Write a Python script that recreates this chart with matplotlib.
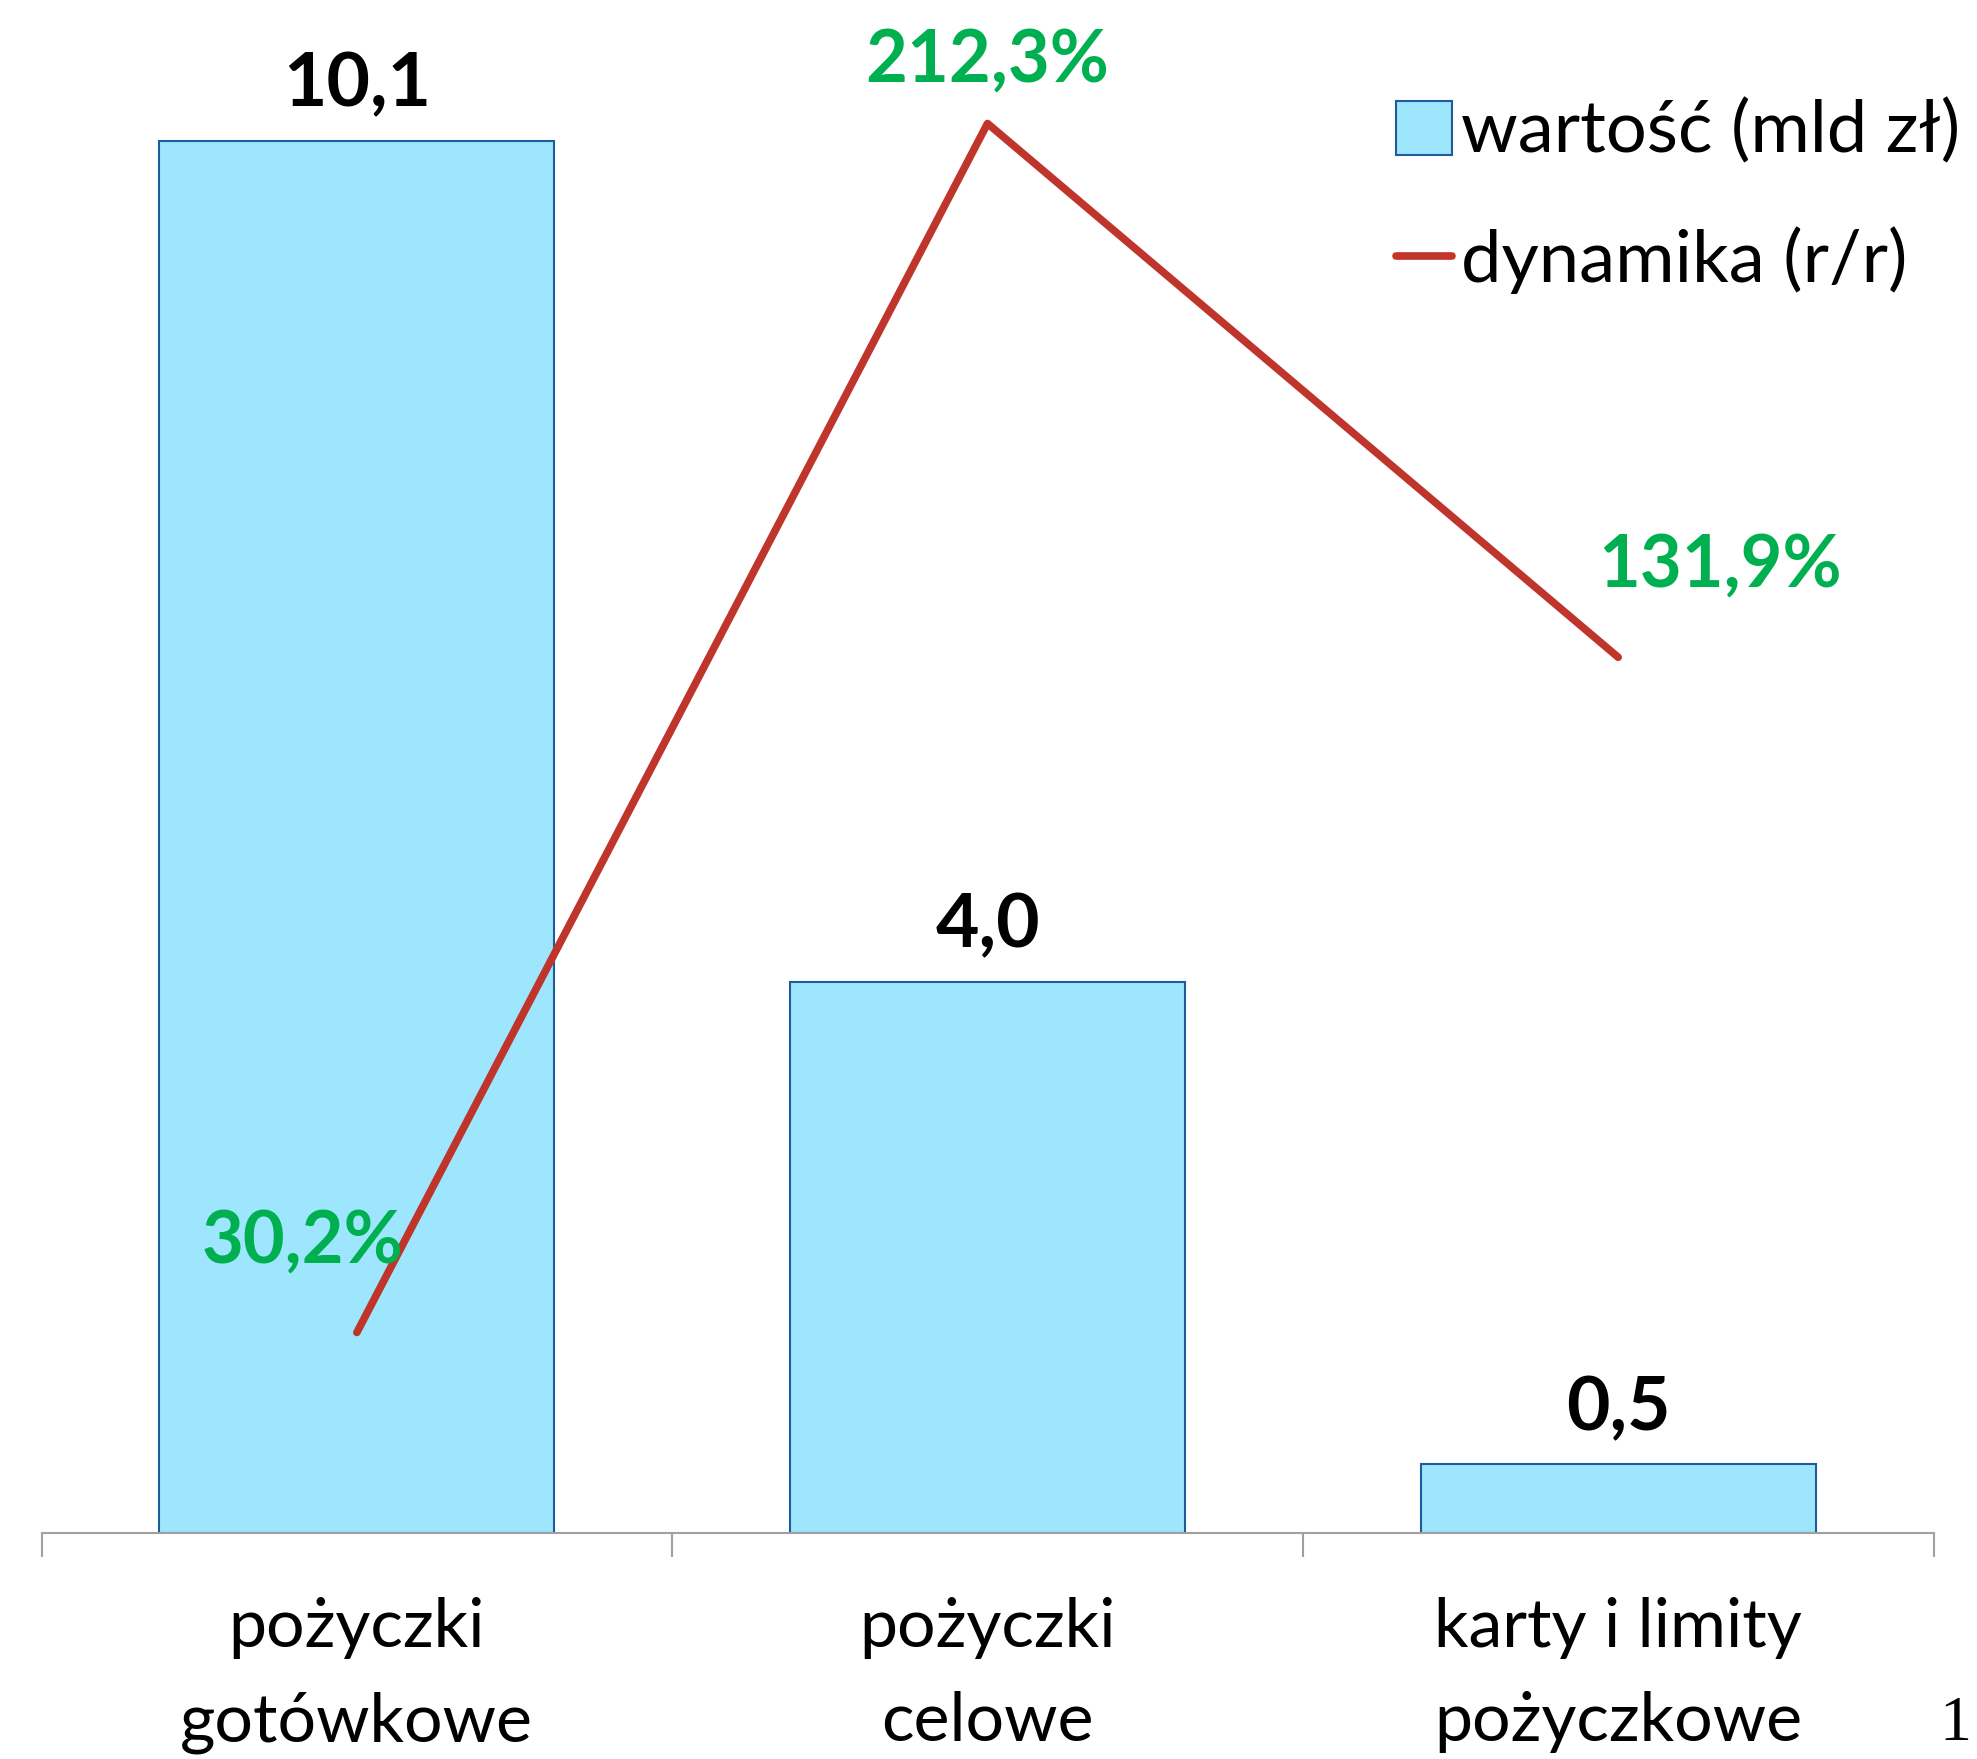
import numpy as np
import matplotlib.pyplot as plt
from matplotlib.patches import Patch
from matplotlib.lines import Line2D

# ----- DATA -----
categories = ["pożyczki\ngotówkowe", "pożyczki\ncelowe", "karty i limity\npożyczkowe"]
values = [10.1, 4.0, 0.5]
value_labels = ["10,1", "4,0", "0,5"]
growth = [30.2, 212.3, 131.9]
growth_labels = ["30,2%", "212,3%", "131,9%"]

# ----- STYLE -----
FONT = "Lato"
BAR_FILL = "#9EE6FE"
BAR_EDGE = "#1F5C99"
LINE_COLOR = "#C0352B"
GREEN = "#00B050"

fig = plt.figure(figsize=(19.77, 17.59), dpi=100)
ax = fig.add_axes([0.021, 0.1285, 0.957, 0.8715])
x = np.arange(len(categories))

ax.bar(x, values, width=0.626, color=BAR_FILL, edgecolor=BAR_EDGE, linewidth=1.5,
       label="wartość (mld zł)", zorder=2)
ax.set_xlim(-0.5, 2.5)
ax.set_ylim(0, 11.12)

for xi, v, lab in zip(x, values, value_labels):
    ax.annotate(lab, (xi, v), xytext=(0, 40), textcoords="offset points",
                ha="center", va="center", fontsize=54, fontweight="bold",
                family=FONT, color="black")

for side in ["top", "right", "left"]:
    ax.spines[side].set_visible(False)
ax.spines["bottom"].set_color("#A0A0A0")
ax.spines["bottom"].set_linewidth(1.5)
ax.set_yticks([])

ax.set_xticks([-0.5, 0.5, 1.5, 2.5])
ax.set_xticklabels([])
ax.tick_params(axis="x", which="major", length=17, width=1.5, color="#A0A0A0")
ax.set_xticks(x, minor=True)
ax.set_xticklabels(categories, minor=True, fontsize=49, family=FONT, linespacing=1.65)
ax.tick_params(axis="x", which="minor", length=0, pad=46)

ax2 = ax.twinx()
ax2.plot(x, growth, color=LINE_COLOR, linewidth=5.5, solid_capstyle="round", zorder=3)
ax2.set_ylim(0, 230.9)
ax2.axis("off")

offsets = [(-39, 65), (0, 45), (73, 66)]
for xi, g, lab, off in zip(x, growth, growth_labels, offsets):
    ax2.annotate(lab, (xi, g), xytext=off, textcoords="offset points",
                 ha="center", va="center", fontsize=52, fontweight="bold",
                 family=FONT, color=GREEN)

handles = [Patch(facecolor=BAR_FILL, edgecolor=BAR_EDGE, linewidth=1.5),
           Line2D([0], [0], color=LINE_COLOR, linewidth=5.5, solid_capstyle="round")]
fig.legend(handles, ["wartość (mld zł)", "dynamika (r/r)"], loc="upper left",
           bbox_to_anchor=(0.706, 0.944), frameon=False, prop={"family": FONT, "size": 52},
           handlelength=0.78, handleheight=0.78, handletextpad=0.12, labelspacing=0.85,
           borderaxespad=0, borderpad=0)

fig.text(0.997, 0.003, "1", fontsize=46, family="Liberation Serif", ha="right", va="bottom")

fig.savefig("out.png", dpi=100)
